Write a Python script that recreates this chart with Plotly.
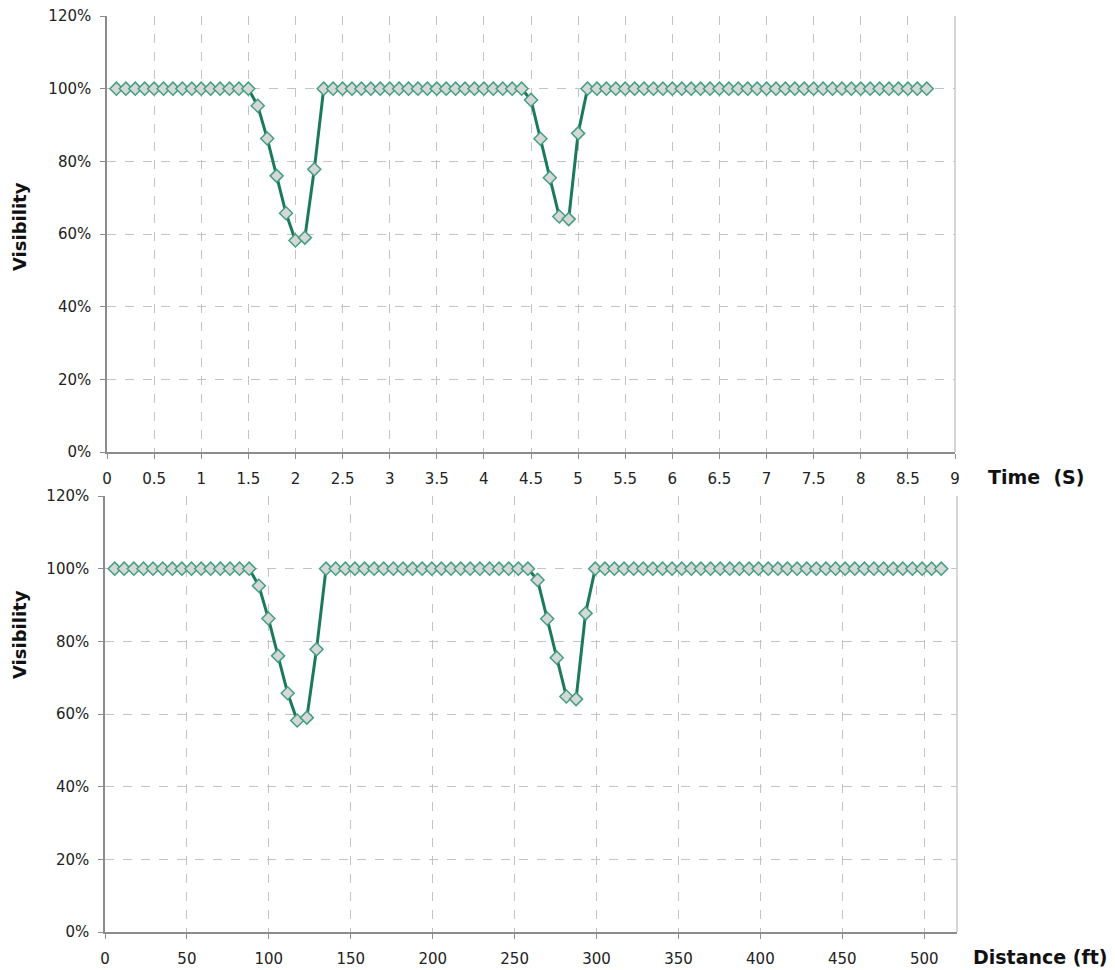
import plotly.graph_objects as go

time_s = [0.1, 0.2, 0.3, 0.4, 0.5, 0.6, 0.7, 0.8, 0.9, 1.0,
          1.1, 1.2, 1.3, 1.4, 1.5, 1.6, 1.7, 1.8, 1.9, 2.0,
          2.1, 2.2, 2.3, 2.4, 2.5, 2.6, 2.7, 2.8, 2.9, 3.0,
          3.1, 3.2, 3.3, 3.4, 3.5, 3.6, 3.7, 3.8, 3.9, 4.0,
          4.1, 4.2, 4.3, 4.4, 4.5, 4.6, 4.7, 4.8, 4.9, 5.0,
          5.1, 5.2, 5.3, 5.4, 5.5, 5.6, 5.7, 5.8, 5.9, 6.0,
          6.1, 6.2, 6.3, 6.4, 6.5, 6.6, 6.7, 6.8, 6.9, 7.0,
          7.1, 7.2, 7.3, 7.4, 7.5, 7.6, 7.7, 7.8, 7.9, 8.0,
          8.1, 8.2, 8.3, 8.4, 8.5, 8.6, 8.7]

distance_ft = [5.9, 11.7, 17.6, 23.5, 29.3, 35.2, 41.1, 46.9, 52.8, 58.7,
               64.5, 70.4, 76.3, 82.1, 88.0, 93.9, 99.7, 105.6, 111.5, 117.3,
               123.2, 129.1, 134.9, 140.8, 146.7, 152.5, 158.4, 164.3, 170.1, 176.0,
               181.9, 187.7, 193.6, 199.5, 205.3, 211.2, 217.1, 222.9, 228.8, 234.7,
               240.5, 246.4, 252.3, 258.1, 264.0, 269.9, 275.7, 281.6, 287.5, 293.3,
               299.2, 305.1, 310.9, 316.8, 322.7, 328.5, 334.4, 340.3, 346.1, 352.0,
               357.9, 363.7, 369.6, 375.5, 381.3, 387.2, 393.1, 398.9, 404.8, 410.7,
               416.5, 422.4, 428.3, 434.1, 440.0, 445.9, 451.7, 457.6, 463.5, 469.3,
               475.2, 481.1, 486.9, 492.8, 498.7, 504.5, 510.4]

visibility = [100, 100, 100, 100, 100, 100, 100, 100, 100, 100,
              100, 100, 100, 100, 100, 95.3, 86.3, 76.0, 65.7, 58.2,
              59.0, 77.8, 100, 100, 100, 100, 100, 100, 100, 100,
              100, 100, 100, 100, 100, 100, 100, 100, 100, 100,
              100, 100, 100, 100, 96.9, 86.2, 75.5, 64.8, 64.1, 87.7,
              100, 100, 100, 100, 100, 100, 100, 100, 100, 100,
              100, 100, 100, 100, 100, 100, 100, 100, 100, 100,
              100, 100, 100, 100, 100, 100, 100, 100, 100, 100,
              100, 100, 100, 100, 100, 100, 100]

y_ticks = [0, 20, 40, 60, 80, 100, 120]
time_ticks = [0, 0.5, 1, 1.5, 2, 2.5, 3, 3.5, 4, 4.5, 5, 5.5, 6, 6.5, 7, 7.5, 8, 8.5, 9]
dist_ticks = [0, 50, 100, 150, 200, 250, 300, 350, 400, 450, 500]

LINE = "#1b7a58"
MFILL = "#d5d8d7"
MLINE = "#439f80"
GRID = "#c3c3c3"
AXIS = "#8c8c8c"
FONT = "DejaVu Sans, Verdana, sans-serif"

fig = go.Figure()
for xs, xa, ya in [(time_s, "x", "y"), (distance_ft, "x2", "y2")]:
    fig.add_trace(go.Scatter(
        x=xs, y=visibility, xaxis=xa, yaxis=ya, mode="lines+markers",
        line=dict(color=LINE, width=3),
        marker=dict(symbol="diamond", size=10, color=MFILL,
                    line=dict(color=MLINE, width=1.5)),
        showlegend=False, hoverinfo="x+y"))

def xax(domain, rng, ticks, anchor):
    return dict(domain=domain, range=rng, tickmode="array", tickvals=ticks,
                ticktext=[("%g" % t) for t in ticks],
                showgrid=True, gridcolor=GRID, griddash="dash", gridwidth=1,
                showline=True, linecolor=AXIS, linewidth=1.5,
                ticks="outside", ticklen=5, tickcolor=AXIS,
                ticklabelstandoff=7,
                tickfont=dict(family=FONT, size=15, color="#222"),
                zeroline=False, anchor=anchor, automargin=False)

def yax(domain, anchor):
    return dict(domain=domain, range=[0, 120], tickmode="array", tickvals=y_ticks,
                ticktext=["%d%%" % t for t in y_ticks],
                showgrid=True, gridcolor=GRID, griddash="dash", gridwidth=1,
                showline=True, linecolor=AXIS, linewidth=1.5,
                ticks="outside", ticklen=5, tickcolor=AXIS,
                ticklabelstandoff=6,
                tickfont=dict(family=FONT, size=15, color="#222"),
                zeroline=False, anchor=anchor, automargin=False)

def ann(text, x, y, size, angle=0):
    return dict(text=text, xref="paper", yref="paper", x=x / W, y=1 - y / H,
                xanchor="center", yanchor="middle", textangle=angle,
                showarrow=False, font=dict(family=FONT, size=size, color="#111"))

W, H = 1115, 970
fig.update_layout(
    width=W, height=H, autosize=False,
    margin=dict(l=0, r=0, t=0, b=0, pad=0, autoexpand=False),
    paper_bgcolor="white", plot_bgcolor="white",
    xaxis=xax([107 / W, 955 / W], [0, 9], time_ticks, "y"),
    yaxis=yax([1 - 452 / H, 1 - 16 / H], "x"),
    xaxis2=xax([105 / W, 957 / W], [0, 520], dist_ticks, "y2"),
    yaxis2=yax([1 - 932 / H, 1 - 496 / H], "x2"),
    shapes=[
        dict(type="line", xref="x domain", yref="y domain", x0=1, x1=1, y0=0, y1=1,
             line=dict(color="#c8c8c8", width=1.5)),
        dict(type="line", xref="x2 domain", yref="y2 domain", x0=1, x1=1, y0=0, y1=1,
             line=dict(color="#c8c8c8", width=1.5)),
    ],
    annotations=[
        ann("<b>Visibility</b>", 19, 227, 18, -90),
        ann("<b>Visibility</b>", 19, 635, 18, -90),
        ann("<b>Time  (S)</b>", 1036, 477, 19),
        ann("<b>Distance (ft)</b>", 1040, 957, 19),
    ],
)

fig.write_html("out.html",
               post_script="document.body.style.margin='0';document.body.style.overflow='hidden';")
